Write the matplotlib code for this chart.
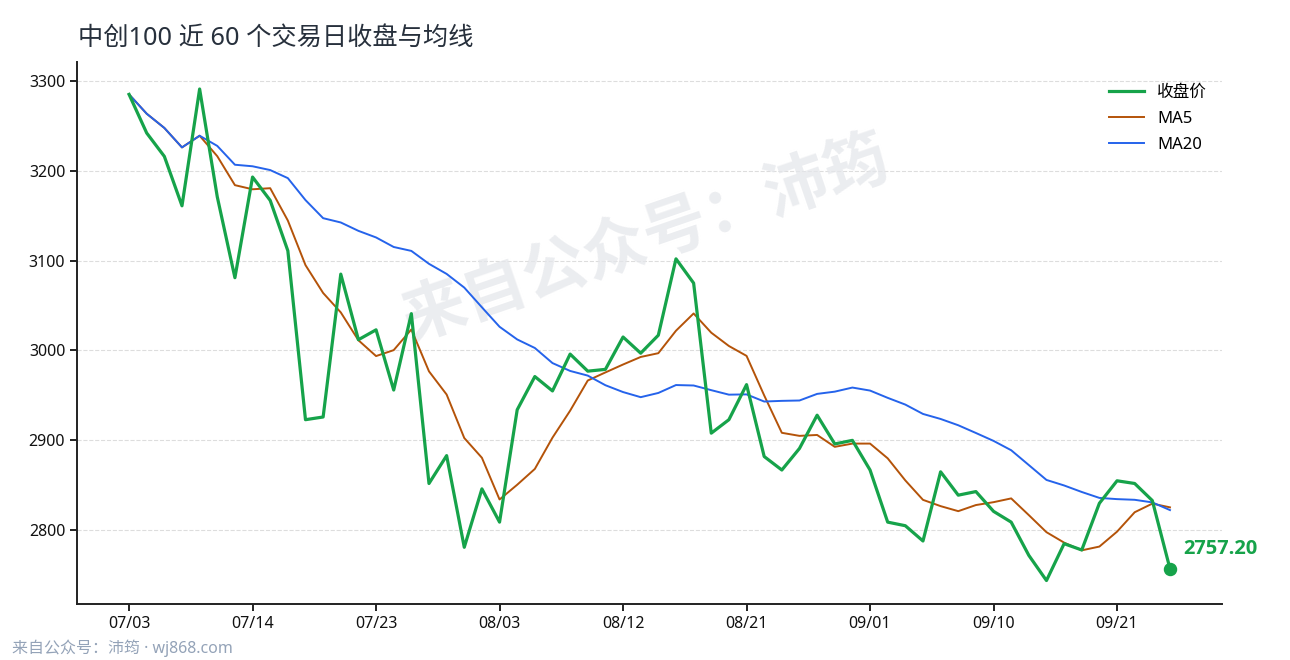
import matplotlib
matplotlib.use("Agg")
import matplotlib.pyplot as plt
import pandas as pd

plt.rcParams['font.family'] = ['Noto Sans', 'Noto Sans CJK SC', 'DejaVu Sans']

# -----------------------------------------------------------
# Data
# -----------------------------------------------------------
dates = ["07/03", "07/04", "07/07", "07/08", "07/09", "07/10", "07/11",
         "07/14", "07/15", "07/16", "07/17", "07/18", "07/21", "07/22",
         "07/23", "07/24", "07/25", "07/28", "07/29", "07/30", "07/31",
         "08/03", "08/04", "08/05", "08/06", "08/07", "08/08", "08/11",
         "08/12", "08/13", "08/14", "08/15", "08/18", "08/19", "08/20",
         "08/21", "08/22", "08/25", "08/26", "08/27", "08/28", "08/29",
         "09/01", "09/02", "09/03", "09/04", "09/05", "09/08", "09/09",
         "09/10", "09/11", "09/12", "09/15", "09/16", "09/17", "09/18",
         "09/21", "09/22", "09/23", "09/24"]

close = [3285, 3242, 3216, 3161, 3291, 3171, 3081, 3193, 3167, 3111,
         2923, 2926, 3085, 3012, 3023, 2956, 3041, 2852, 2883, 2781,
         2846, 2809, 2934, 2971, 2955, 2996, 2977, 2979, 3015, 2997,
         3017, 3102, 3075, 2908, 2923, 2962, 2882, 2867, 2891, 2928,
         2896, 2900, 2867, 2809, 2805, 2788, 2865, 2839, 2843, 2821,
         2809, 2772, 2744, 2785, 2778, 2830, 2855, 2852, 2833, 2757.20]

tick_labels = ["07/03", "07/14", "07/23", "08/03", "08/12",
               "08/21", "09/01", "09/10", "09/21"]

GREEN = "#16a34a"
ORANGE = "#b45309"
BLUE = "#2563eb"

# moving averages over the visible window
s = pd.Series(close)
ma5 = s.rolling(5, min_periods=1).mean()
ma20 = s.rolling(20, min_periods=1).mean()
x = list(range(len(close)))

fig = plt.figure(figsize=(12.9, 6.6), dpi=100)
ax = fig.add_axes([0.0597, 0.085, 0.8876, 0.821])

ax.plot(x, close, color=GREEN, lw=2.3, label="收盘价", zorder=3)
ax.plot(x, ma5, color=ORANGE, lw=1.4, label="MA5", zorder=2)
ax.plot(x, ma20, color=BLUE, lw=1.4, label="MA20", zorder=2)

# last close marker + label
ax.scatter([x[-1]], [close[-1]], s=75, color=GREEN, zorder=4)
ax.annotate(f"{close[-1]:.2f}", (x[-1], close[-1]), xytext=(9.5, 14.5),
            textcoords="offset points", color=GREEN, fontsize=14.5,
            family=["Open Sans", "DejaVu Sans"], fontweight="bold",
            va="center", ha="left")

ax.set_ylim(2718, 3321)
ax.set_yticks([2800, 2900, 3000, 3100, 3200, 3300])
ax.set_xticks([dates.index(t) for t in tick_labels])
ax.set_xticklabels(tick_labels)
ax.tick_params(labelsize=11.5, length=5, width=1.3, colors="#111111")

ax.grid(axis="y", ls="--", color="#dddddd", lw=0.8)
ax.set_axisbelow(True)
for side in ["top", "right"]:
    ax.spines[side].set_visible(False)
for side in ["left", "bottom"]:
    ax.spines[side].set_linewidth(1.4)
    ax.spines[side].set_color("#222222")

ax.legend(loc="upper right", frameon=False, fontsize=12,
          handlelength=2.1, labelspacing=0.6, bbox_to_anchor=(1.0, 0.986))

fig.text(0.0605, 0.942, "中创100 近 60 个交易日收盘与均线", fontsize=18.2,
         color="#27303c", va="center", ha="left")

# watermark
ax.text(0.497, 0.67, "来自公众号：沛筠", transform=ax.transAxes, fontsize=46,
        fontweight="bold", color="#e5e7eb", alpha=0.75, rotation=19,
        ha="center", va="center", zorder=1)

fig.text(0.009, 0.018, "来自公众号：沛筠 · wj868.com", fontsize=11.5,
         color="#94a3b8", ha="left", va="center")

fig.savefig("out.png", dpi=100)
